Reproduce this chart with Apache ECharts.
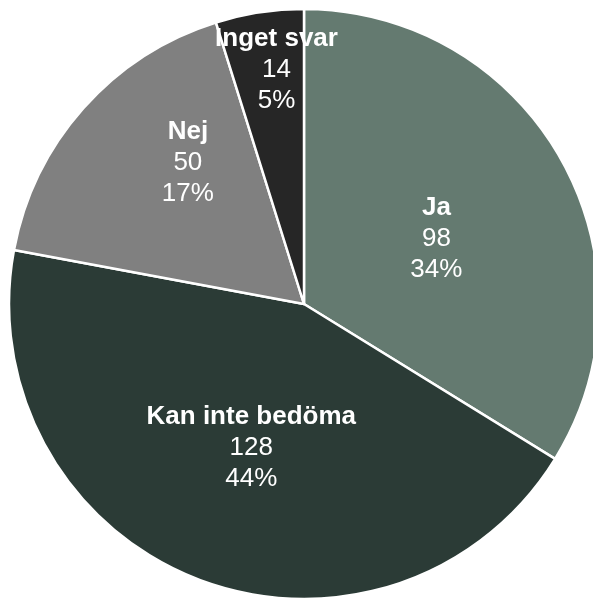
<!DOCTYPE html>
<html><head><meta charset="utf-8">
<script src="https://cdn.jsdelivr.net/npm/echarts@6/dist/echarts.min.js"></script>
<style>html,body{margin:0;padding:0;background:#fff}#c{width:593px;height:599px}</style>
</head><body><div id="c"></div>
<script>
const categories = ['Ja', 'Kan inte bedöma', 'Nej', 'Inget svar'];
const values = [98, 128, 50, 14];
const colors = ['#647a70', '#2b3b36', '#808080', '#262626'];
// label placement: fraction of radius and angle offset (deg) from slice mid
const labelRadial = [0.50, 0.52, 0.62, 0.80];
const labelAngleShift = [3, -1, 9, 2];

const CX = 304, CY = 304, R = 295;
const total = values.reduce((a, b) => a + b, 0);
const mids = [];
let acc = 0;
values.forEach(v => { mids.push((acc + v / 2) / total * 360); acc += v; });

const chart = echarts.init(document.getElementById('c'), null, {renderer: 'canvas'});
chart.setOption({
  animation: false,
  series: [{
    type: 'pie',
    center: [CX, CY],
    radius: [0, R],
    startAngle: 90,
    clockwise: true,
    percentPrecision: 0,
    data: categories.map((n, i) => ({name: n, value: values[i], itemStyle: {color: colors[i]}})),
    itemStyle: {borderColor: '#ffffff', borderWidth: 2.5},
    label: {
      show: true,
      position: 'inside',
      color: '#ffffff',
      fontFamily: 'Liberation Sans, Arial, sans-serif',
      fontSize: 26,
      lineHeight: 31,
      align: 'center',
      formatter: p => '{b|' + p.name + '}\n' + p.value + '\n' + p.percent + '%',
      rich: {b: {fontWeight: 'bold', fontSize: 26, lineHeight: 31, color: '#ffffff', fontFamily: 'Liberation Sans, Arial, sans-serif'}}
    },
    labelLine: {show: false},
    labelLayout: p => {
      const i = p.dataIndex;
      const a = (mids[i] + labelAngleShift[i]) * Math.PI / 180;
      const d = labelRadial[i] * R;
      return {x: CX + Math.sin(a) * d, y: CY - Math.cos(a) * d, align: 'center', verticalAlign: 'middle'};
    }
  }]
});
</script></body></html>
